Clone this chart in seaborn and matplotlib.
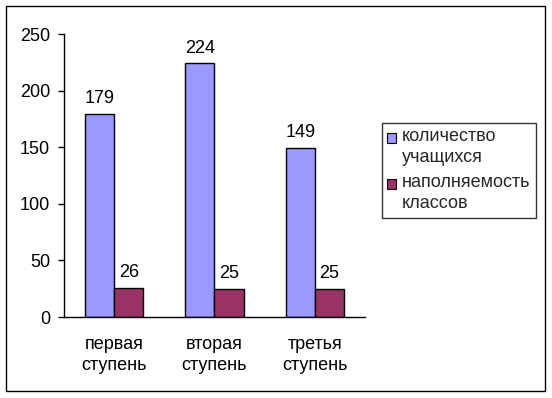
import matplotlib
matplotlib.use("Agg")
import matplotlib.pyplot as plt
import seaborn as sns
import pandas as pd
from matplotlib.patches import Rectangle

categories = ["первая\nступень", "вторая\nступень", "третья\nступень"]
series_names = ["количество\nучащихся", "наполняемость\nклассов"]
students = [179, 224, 149]
fill = [26, 25, 25]
colors = ["#9999FF", "#993366"]
yticks = [0, 50, 100, 150, 200, 250]

df = pd.DataFrame({
    "cat": categories * 2,
    "series": [series_names[0]] * 3 + [series_names[1]] * 3,
    "value": students + fill,
})

FS = 13
sns.set_theme(style="white")
plt.rcParams["font.family"] = ["Liberation Sans", "DejaVu Sans"]
plt.rcParams["font.size"] = FS

fig = plt.figure(figsize=(5.52, 3.98), dpi=100)
ax = fig.add_axes([0.116, 0.2035, 0.545, 0.711])

sns.barplot(data=df, x="cat", y="value", hue="series", palette=colors,
            width=0.58, edgecolor="black", linewidth=1, ax=ax, legend=True,
            saturation=1)

for cont in ax.containers:
    ax.bar_label(cont, padding=5, fontsize=FS, color="black")

ax.set_ylim(0, 250)
ax.set_xlim(-0.5, 2.5)
ax.set_yticks(yticks)
ax.set_xlabel("")
ax.set_ylabel("")
ax.set_xticks([0, 1, 2])
ax.set_xticklabels(categories, linespacing=1.3)
ax.set_xticks([-0.5, 0.5, 1.5, 2.5], minor=True)
ax.tick_params(axis="x", which="major", length=0, pad=14, labelsize=FS, colors="black")
ax.tick_params(axis="x", which="minor", length=4, width=1, direction="out", color="black")
ax.tick_params(axis="y", length=4.3, width=1, direction="out", left=True, labelsize=FS, pad=5.8, colors="black")
for s in ["top", "right"]:
    ax.spines[s].set_visible(False)
for s in ["left", "bottom"]:
    ax.spines[s].set_color("black")
    ax.spines[s].set_linewidth(1)
ax.grid(False)


class TopSquareHandler:
    def __init__(self, dy):
        self.dy = dy

    def legend_artist(self, legend, orig_handle, fontsize, handlebox):
        x0, y0 = handlebox.xdescent, handlebox.ydescent
        w, h = handlebox.width, handlebox.height
        patch = Rectangle((x0, y0 + self.dy), w, h,
                          facecolor=orig_handle.get_facecolor(),
                          edgecolor="black", linewidth=0.8,
                          transform=handlebox.get_transform())
        handlebox.add_artist(patch)
        return patch


handles, labels = ax.get_legend_handles_labels()
ax.get_legend().remove()
hmap = {h: TopSquareHandler(9.0) for h in handles}
leg = fig.legend(handles, labels, loc="upper left", bbox_to_anchor=(0.692, 0.691),
                 frameon=True, fancybox=False, shadow=False, fontsize=FS,
                 handlelength=0.45, handleheight=0.45, handletextpad=0.35,
                 labelspacing=0.45, borderpad=0.3, borderaxespad=0,
                 handler_map=hmap)
leg.get_frame().set_edgecolor("black")
leg.get_frame().set_linewidth(1)
for t in leg.get_texts():
    t.set_linespacing(1.3)

fig.patches.append(Rectangle((0.0109, 0.0176), 0.9764, 0.967, transform=fig.transFigure,
                             fill=False, edgecolor="black", linewidth=1))

fig.savefig("out.png", dpi=100)
